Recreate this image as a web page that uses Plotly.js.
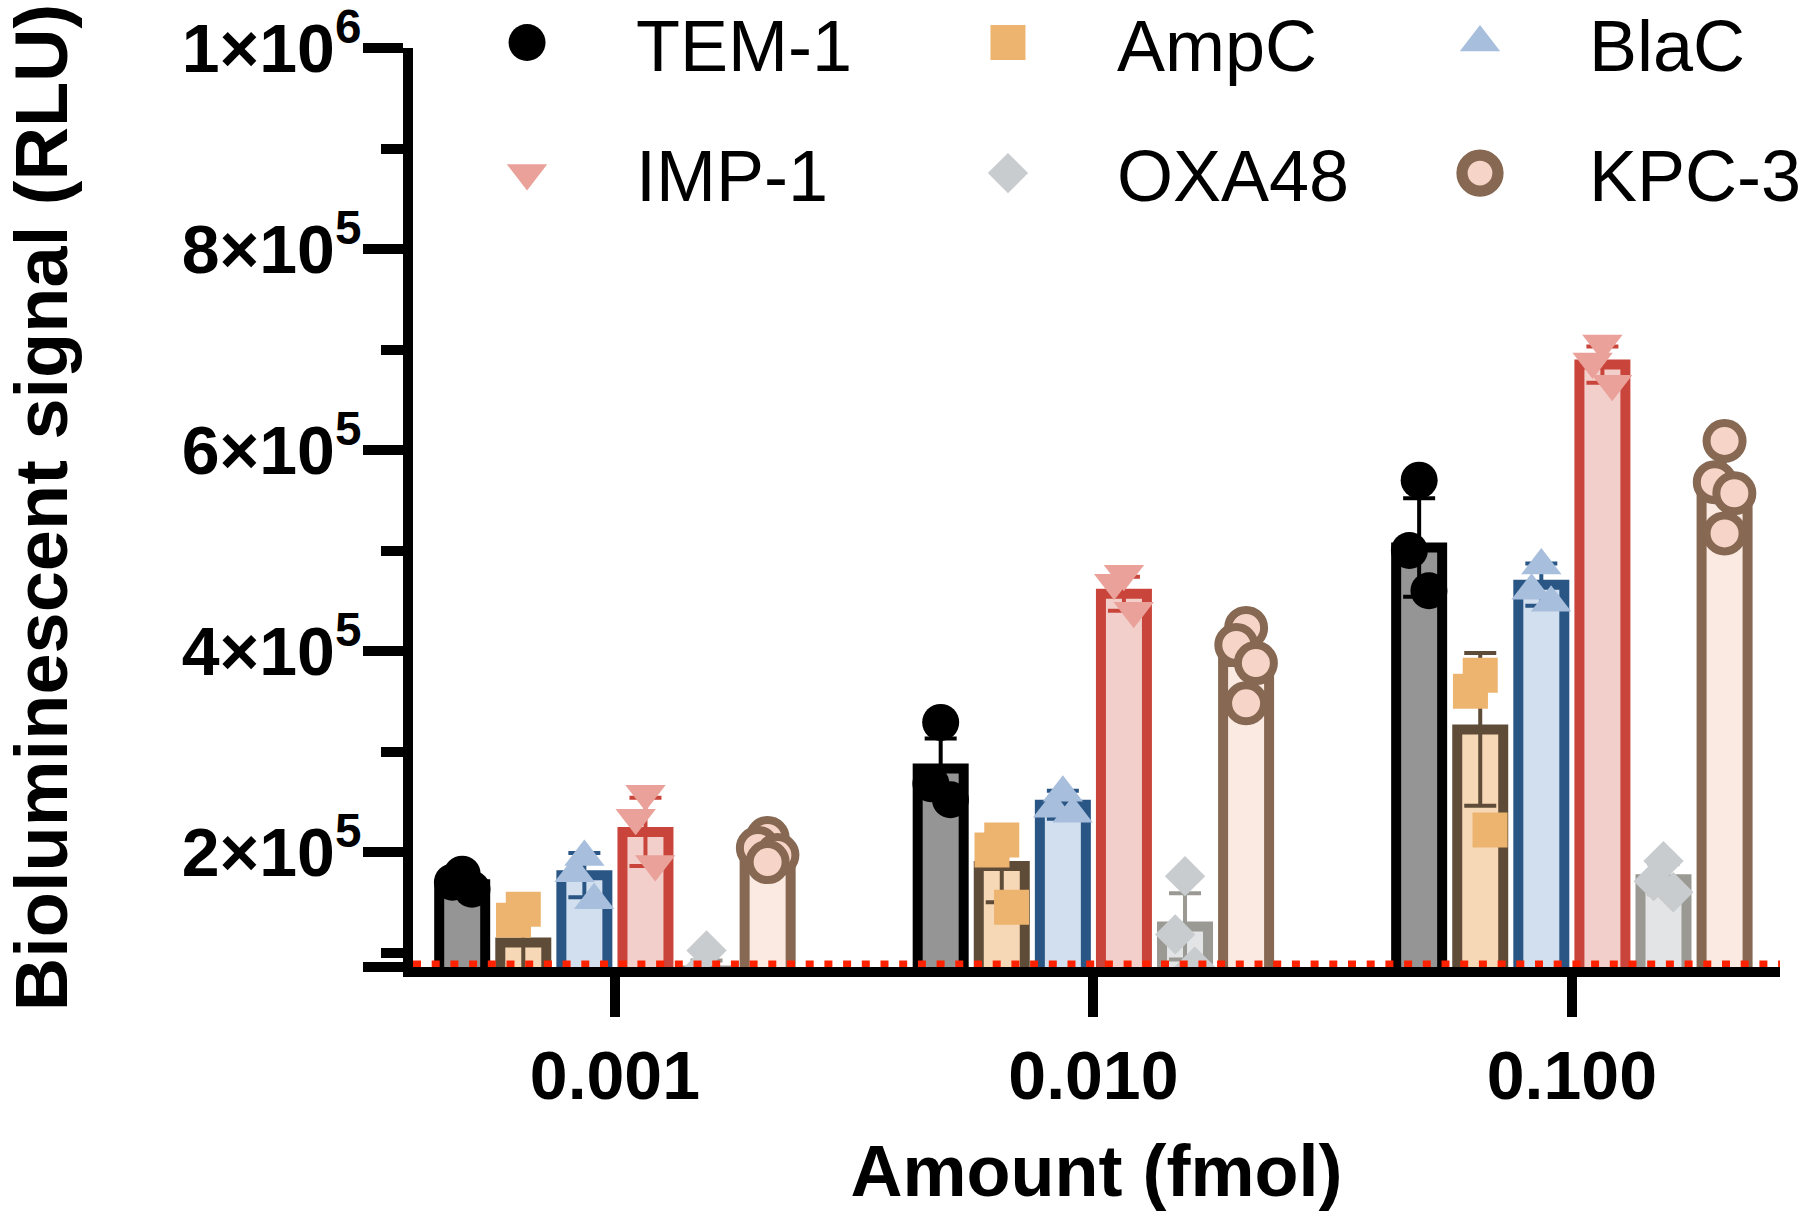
<!DOCTYPE html>
<html>
<head>
<meta charset="utf-8">
<script src="https://cdn.plot.ly/plotly-3.0.1.min.js"></script>
<style>
  html, body { margin: 0; padding: 0; background: #fff; }
  #chart { width: 1800px; height: 1222px; }
</style>
</head>
<body>
<div id="chart"></div>
<script>
// categories
const amounts = ['0.001', '0.010', '0.100'];
const enzymes = ['TEM-1', 'AmpC', 'BlaC', 'IMP-1', 'OXA48', 'KPC-3'];

// bar heights (mean RLU) per amount
const meanTEM1 = [168000, 283000, 503000];
const meanAmpC = [110000, 186000, 322000];
const meanBlaC = [177000, 247000, 466000];
const meanIMP1 = [220000, 457000, 685000];
const meanOXA48 = [82000, 126000, 173000];
const meanKPC3 = [201000, 389000, 561000];

// SD per amount
const sdTEM1 = [7000, 30000, 49000];
const sdAmpC = [40000, 36000, 76000];
const sdBlaC = [22000, 14000, 21000];
const sdIMP1 = [34000, 17000, 18000];
const sdOXA48 = [10000, 33000, 15000];
const sdKPC3 = [11000, 31000, 38000];

// replicate points per amount
const ptsTEM1 = [[178000, 170000, 163000], [329000, 268000, 252000], [570000, 500000, 460000]];
const ptsAmpC = [[143000, 132000, 55000], [212000, 202000, 145000], [376000, 360000, 222000]];
const ptsBlaC = [[195000, 179000, 152000], [259000, 243000, 238000], [485000, 460000, 448000]];
const ptsIMP1 = [[258000, 234000, 188000], [477000, 468000, 440000], [706000, 688000, 666000]];
const ptsOXA48 = [[102000, 78000, 66000], [176000, 118000, 86000], [191000, 171000, 160000]];
const ptsKPC3 = [[214000, 204000, 197000, 190000], [423000, 406000, 388000, 348000], [609000, 568000, 557000, 517000]];

// background level (red dotted line)
const background = 88000;

// y tick labels
const yTickVals = [85600, 200000, 400000, 600000, 800000, 1000000];
const yTickText = ['', '2×10<sup>5</sup>', '4×10<sup>5</sup>', '6×10<sup>5</sup>', '8×10<sup>5</sup>', '1×10<sup>6</sup>'];
const yMinorVals = [100000, 300000, 500000, 700000, 900000];

const means = [meanTEM1, meanAmpC, meanBlaC, meanIMP1, meanOXA48, meanKPC3];
const sds = [sdTEM1, sdAmpC, sdBlaC, sdIMP1, sdOXA48, sdKPC3];
const points = [ptsTEM1, ptsAmpC, ptsBlaC, ptsIMP1, ptsOXA48, ptsKPC3];

// styling
const barFill = ['#959595', '#F6D8B6', '#D2DFEE', '#F3CFCB', '#E2E4E6', '#FAEAE2'];
const barLine = ['#000000', '#5E4C38', '#295685', '#C9443A', '#9A9993', '#866853'];
const dotColor = ['#000000', '#EDB470', '#A7BEDC', '#EAA199', '#C8CCCE', '#F6D5C8'];
const dotSymbol = ['circle', 'square', 'triangle-up', 'triangle-down', 'diamond', 'circle'];
const dotSize = [37, 35, 35, 35, 31, 36];
const dotLine = [0, 0, 0, 0, 0, 8];
const legendOf = ['legend', 'legend2', 'legend3', 'legend', 'legend2', 'legend3'];

const BARGAP = 0.234;
const SLOT = (1 - BARGAP) / enzymes.length;
const JITTER = [0, -0.16, 0.16, 0];
const FONT = '"Liberation Sans", Arial, Helvetica, sans-serif';

const xIdx = amounts.map((a, i) => i);
const traces = [];

enzymes.forEach((name, s) => {
  traces.push({
    type: 'bar',
    x: xIdx,
    y: means[s],
    name: name,
    showlegend: false,
    marker: { color: barFill[s], line: { color: barLine[s], width: 10 } },
    error_y: { type: 'data', array: sds[s], visible: true, color: barLine[s], thickness: 4, width: 16 },
    hoverinfo: 'skip'
  });
});

enzymes.forEach((name, s) => {
  const xs = [], ys = [];
  points[s].forEach((reps, g) => {
    reps.forEach((v, r) => {
      xs.push(g + (s - 2.5) * SLOT + JITTER[r % JITTER.length] * SLOT);
      ys.push(v);
    });
  });
  traces.push({
    type: 'scatter',
    mode: 'markers',
    x: xs,
    y: ys,
    name: name,
    legend: legendOf[s],
    legendgroup: name,
    marker: {
      symbol: dotSymbol[s],
      size: dotSize[s],
      color: dotColor[s],
      line: { color: barLine[s], width: dotLine[s] }
    }
  });
});

const legendBase = {
  xanchor: 'left', yanchor: 'top', y: 1.064,
  orientation: 'v', traceorder: 'grouped', tracegroupgap: 34,
  itemwidth: 208, bgcolor: 'rgba(0,0,0,0)', borderwidth: 0,
  font: { family: FONT, size: 72, color: '#000' }
};

const layout = {
  width: 1800,
  height: 1222,
  paper_bgcolor: '#fff',
  plot_bgcolor: 'rgba(0,0,0,0)',
  margin: { l: 413, r: 20, t: 48, b: 255, autoexpand: false },
  barmode: 'group',
  bargap: BARGAP,
  bargroupgap: 0.247,
  font: { family: FONT, color: '#000' },
  xaxis: {
    range: [-0.422, 2.435],
    tickmode: 'array',
    tickvals: xIdx,
    ticktext: amounts,
    ticks: 'outside', ticklen: 40, tickwidth: 10, tickcolor: '#000',
    showline: true, linewidth: 10, linecolor: '#000',
    showgrid: false, zeroline: false, automargin: false,
    tickfont: { family: FONT, size: 68, weight: 700 },
    title: { text: 'Amount (fmol)', font: { family: FONT, size: 72, weight: 700 }, standoff: 38 }
  },
  yaxis: {
    range: [85600, 1000000],
    tickmode: 'array',
    tickvals: yTickVals,
    ticktext: yTickText,
    ticks: 'outside', ticklen: 40, tickwidth: 10, tickcolor: '#000',
    ticklabelstandoff: -12,
    ticklabeloverflow: 'allow',
    minor: { tickmode: 'array', tickvals: yMinorVals, ticks: 'outside', ticklen: 22, tickwidth: 10, tickcolor: '#000' },
    showline: true, linewidth: 10, linecolor: '#000',
    showgrid: false, zeroline: false, automargin: false,
    tickfont: { family: FONT, size: 68, weight: 700 },
    title: { text: 'Bioluminescent signal (RLU)', font: { family: FONT, size: 74, weight: 700 }, standoff: 132 }
  },
  legend: Object.assign({}, legendBase, { x: 0.0037 }),
  legend2: Object.assign({}, legendBase, { x: 0.3555 }),
  legend3: Object.assign({}, legendBase, { x: 0.7008 }),
  shapes: [{
    type: 'line', xref: 'paper', x0: 0, x1: 1, yref: 'y', y0: background, y1: background,
    line: { color: '#FF2200', width: 8, dash: '8px,10.7px' }, layer: 'above'
  }]
};

// legend symbols are capped at 16px by plotly; bring them to the plot marker size
function enlargeLegendSymbols() {
  document.querySelectorAll('#chart g.traces').forEach(g => {
    const d = g.__data__;
    if (!d || !d[0] || !d[0].trace || !d[0].trace.marker) return;
    const k = d[0].trace.marker.size / 16;
    g.querySelectorAll('path.scatterpts').forEach(p => {
      const t = p.getAttribute('transform') || '';
      p.setAttribute('transform', t + ' scale(' + k + ')');
    });
  });
}

Plotly.newPlot('chart', traces, layout, { displayModeBar: false, staticPlot: true })
  .then(enlargeLegendSymbols);
</script>
</body>
</html>
